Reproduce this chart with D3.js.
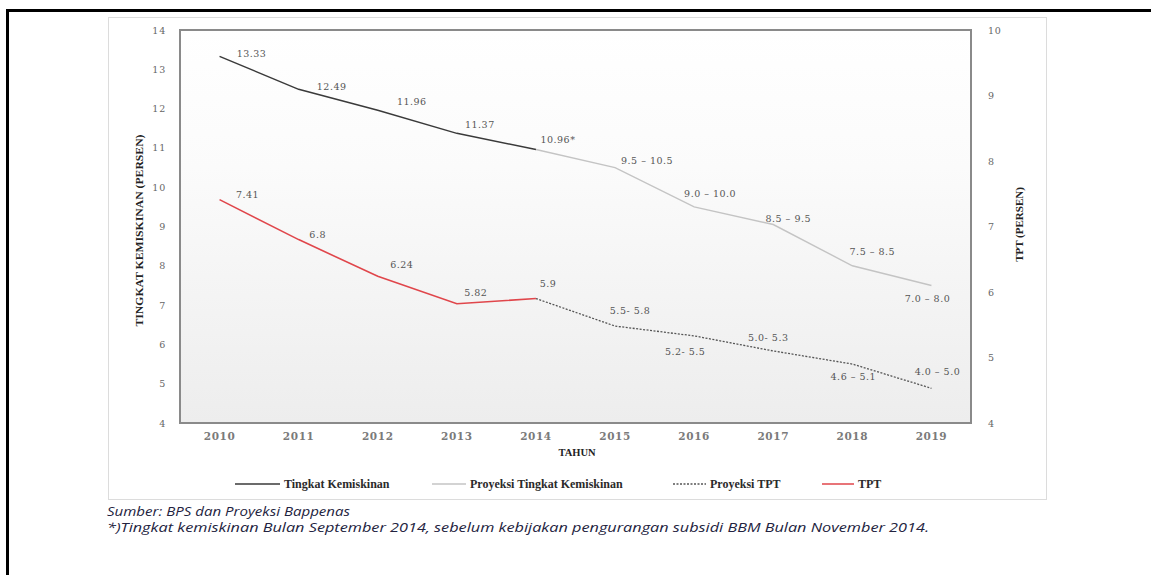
<!DOCTYPE html>
<html>
<head>
<meta charset="utf-8">
<script src="https://cdn.jsdelivr.net/npm/d3@7"></script>
<style>
  body { margin: 0; background: #fff; }
  svg { display: block; }
</style>
</head>
<body>
<div id="chart"></div>
<script>
// data
const years = ['2010', '2011', '2012', '2013', '2014', '2015', '2016', '2017', '2018', '2019'];
const kemiskinanYears = ['2010', '2011', '2012', '2013', '2014'];
const kemiskinan = [13.33, 12.49, 11.96, 11.37, 10.96];
const kemiskinanLabels = ['13.33', '12.49', '11.96', '11.37', '10.96*'];
const proyeksiYears = ['2014', '2015', '2016', '2017', '2018', '2019'];
const proyeksiKemiskinan = [10.96, 10.5, 9.5, 9.05, 8.0, 7.5];
const proyeksiKemiskinanLabels = ['', '9.5 \u2013 10.5', '9.0 \u2013 10.0', '8.5 \u2013 9.5', '7.5 \u2013 8.5', '7.0 \u2013 8.0'];
const tpt = [7.41, 6.8, 6.24, 5.82, 5.9];
const tptLabels = ['7.41', '6.8', '6.24', '5.82', '5.9'];
const proyeksiTpt = [5.9, 5.48, 5.33, 5.1, 4.9, 4.53];
const proyeksiTptLabels = ['', '5.5- 5.8', '5.2- 5.5', '5.0- 5.3', '4.6 \u2013 5.1', '4.0 \u2013 5.0'];
const leftTicks = [4, 5, 6, 7, 8, 9, 10, 11, 12, 13, 14];
const rightTicks = [4, 5, 6, 7, 8, 9, 10];

// label nudges (px) relative to each point
const kemOff = [[32, -3], [33, -3], [34, -8], [23, -9], [22, -10]];
const proyKemOff = [[0, 0], [32, -7], [16, -13], [15, -6], [20, -14], [-4, 13]];
const tptOff = [[28, -5], [19, -5], [24, -12], [19, -11], [12, -15]];
const proyTptOff = [[0, 0], [15, -15], [-9, 16], [-5, -13], [1, 13], [6, -17]];

const W = 1151, H = 575;
const plot = { left: 180, top: 30, right: 971, bottom: 423 };

const svg = d3.select('#chart').append('svg')
  .attr('width', W).attr('height', H);

const defs = svg.append('defs');
const grad = defs.append('linearGradient')
  .attr('id', 'bg').attr('x1', 0).attr('y1', 0).attr('x2', 0).attr('y2', 1);
grad.append('stop').attr('offset', '0%').attr('stop-color', '#ffffff');
grad.append('stop').attr('offset', '35%').attr('stop-color', '#fbfbfb');
grad.append('stop').attr('offset', '100%').attr('stop-color', '#ededed');

// outer frame
svg.append('rect')
  .attr('x', 7.5).attr('y', 10.5).attr('width', 1200).attr('height', 700)
  .attr('fill', 'none').attr('stroke', '#000').attr('stroke-width', 3);

// chart panel
svg.append('rect')
  .attr('x', 108.5).attr('y', 17.5).attr('width', 938).attr('height', 482)
  .attr('fill', '#fff').attr('stroke', '#dcdcdc').attr('stroke-width', 1);

const x = d3.scaleBand().domain(years).range([plot.left, plot.right]);
const cx = d => x(d) + x.bandwidth() / 2;
const yL = d3.scaleLinear().domain([4, 14]).range([plot.bottom, plot.top]);
const yR = d3.scaleLinear().domain([4, 10]).range([plot.bottom, plot.top]);

// plot area
svg.append('rect')
  .attr('x', plot.left).attr('y', plot.top)
  .attr('width', plot.right - plot.left).attr('height', plot.bottom - plot.top)
  .attr('fill', 'url(#bg)').attr('stroke', '#8a8a8a').attr('stroke-width', 2);

const tickFont = '"DejaVu Serif", serif';

const gL = svg.append('g')
  .attr('transform', `translate(${plot.left},0)`)
  .call(d3.axisLeft(yL).tickValues(leftTicks).tickFormat(d3.format('d')).tickSize(0).tickPadding(14));
const gR = svg.append('g')
  .attr('transform', `translate(${plot.right},0)`)
  .call(d3.axisRight(yR).tickValues(rightTicks).tickFormat(d3.format('d')).tickSize(0).tickPadding(17));
[gL, gR].forEach(g => {
  g.select('.domain').remove();
  g.selectAll('text')
    .style('font-family', tickFont).style('font-size', '9.5px')
    .style('letter-spacing', '0.8px').attr('fill', '#666');
});

const gX = svg.append('g')
  .attr('transform', `translate(0,${plot.bottom})`)
  .call(d3.axisBottom(x).tickSize(0).tickPadding(10));
gX.select('.domain').remove();
gX.selectAll('text')
  .style('font-family', tickFont).style('font-size', '10.5px').style('font-weight', 'bold')
  .style('letter-spacing', '0.6px').attr('fill', '#7a7a7a');

// axis titles
const titleFont = '"Liberation Serif", serif';
svg.append('text')
  .attr('transform', `translate(143,${(plot.top + plot.bottom) / 2 + 4}) rotate(-90)`)
  .attr('text-anchor', 'middle')
  .style('font-family', titleFont).style('font-size', '11px').style('font-weight', 'bold')
  .attr('fill', '#222')
  .attr('textLength', 192).attr('lengthAdjust', 'spacingAndGlyphs')
  .text('TINGKAT KEMISKINAN (PERSEN)');
svg.append('text')
  .attr('transform', `translate(1023,${(plot.top + plot.bottom) / 2 - 2}) rotate(-90)`)
  .attr('text-anchor', 'middle')
  .style('font-family', titleFont).style('font-size', '11px').style('font-weight', 'bold')
  .attr('fill', '#222')
  .text('TPT (PERSEN)');
svg.append('text')
  .attr('x', 577).attr('y', 456)
  .attr('text-anchor', 'middle')
  .style('font-family', titleFont).style('font-size', '10.5px').style('font-weight', 'bold')
  .attr('fill', '#222')
  .text('TAHUN');

// lines
const series = [
  { xs: proyeksiYears, ys: proyeksiKemiskinan, y: yL, color: '#c4c4c4', width: 1.4, dash: null, labels: proyeksiKemiskinanLabels, off: proyKemOff },
  { xs: kemiskinanYears, ys: kemiskinan, y: yL, color: '#3a3a3a', width: 1.5, dash: null, labels: kemiskinanLabels, off: kemOff },
  { xs: proyeksiYears, ys: proyeksiTpt, y: yR, color: '#555555', width: 1.3, dash: '2,1.5', labels: proyeksiTptLabels, off: proyTptOff },
  { xs: kemiskinanYears, ys: tpt, y: yR, color: '#e0464b', width: 1.6, dash: null, labels: tptLabels, off: tptOff }
];

series.forEach(s => {
  const pts = s.xs.map((yr, i) => [cx(yr), s.y(s.ys[i])]);
  svg.append('path')
    .attr('d', d3.line()(pts))
    .attr('fill', 'none')
    .attr('stroke', s.color)
    .attr('stroke-width', s.width)
    .attr('stroke-dasharray', s.dash);
  svg.selectAll(null)
    .data(s.labels)
    .enter()
    .append('text')
    .attr('x', (d, i) => cx(s.xs[i]) + s.off[i][0])
    .attr('y', (d, i) => s.y(s.ys[i]) + s.off[i][1])
    .attr('dy', '0.35em')
    .attr('text-anchor', 'middle')
    .style('font-family', tickFont).style('font-size', '9.5px')
    .style('letter-spacing', '0.5px')
    .attr('fill', '#555')
    .text(d => d);
});

// legend
const legendItems = [
  { name: 'Tingkat Kemiskinan', color: '#3a3a3a', dash: null, x0: 235, x1: 280 },
  { name: 'Proyeksi Tingkat Kemiskinan', color: '#c4c4c4', dash: null, x0: 432, x1: 466 },
  { name: 'Proyeksi TPT', color: '#555555', dash: '2,1.5', x0: 673, x1: 706 },
  { name: 'TPT', color: '#e0464b', dash: null, x0: 822, x1: 854 }
];
const lg = svg.append('g').attr('transform', 'translate(0,484)');
legendItems.forEach(it => {
  lg.append('line')
    .attr('x1', it.x0).attr('x2', it.x1).attr('y1', 0).attr('y2', 0)
    .attr('stroke', it.color).attr('stroke-width', 1.5)
    .attr('stroke-dasharray', it.dash);
  lg.append('text')
    .attr('x', it.x1 + 4).attr('y', 0).attr('dy', '0.35em')
    .style('font-family', titleFont).style('font-size', '12px').style('font-weight', 'bold')
    .attr('fill', '#2a2a2a')
    .text(it.name);
});

// source notes
const noteFont = '"Open Sans", sans-serif';
svg.append('text')
  .attr('x', 107).attr('y', 516)
  .style('font-family', noteFont).style('font-size', '13px').style('font-style', 'italic')
  .attr('fill', '#232340')
  .attr('textLength', 243).attr('lengthAdjust', 'spacingAndGlyphs')
  .text('Sumber: BPS dan Proyeksi Bappenas');
svg.append('text')
  .attr('x', 107).attr('y', 532)
  .style('font-family', noteFont).style('font-size', '13px').style('font-style', 'italic')
  .attr('fill', '#232340')
  .attr('textLength', 822).attr('lengthAdjust', 'spacingAndGlyphs')
  .text('*)Tingkat kemiskinan Bulan September 2014, sebelum kebijakan pengurangan subsidi BBM Bulan November 2014.');
</script>
</body>
</html>
